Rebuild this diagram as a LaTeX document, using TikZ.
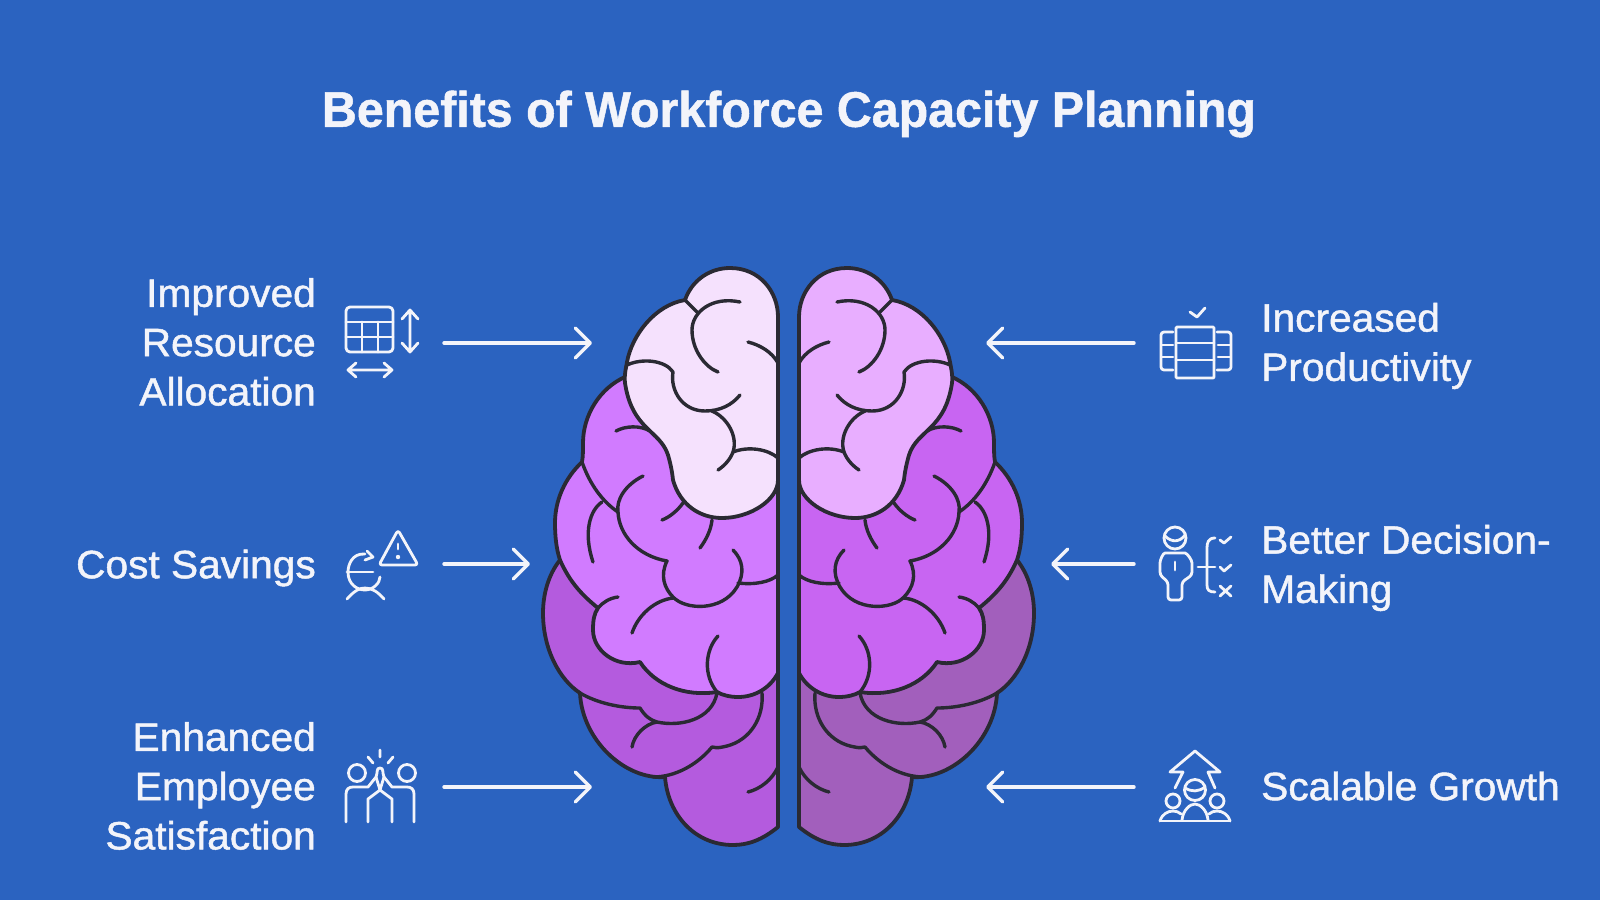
\documentclass[tikz,border=0pt]{standalone}
\usepackage{fontspec}
\usetikzlibrary{arrows.meta}
\newfontfamily\labfont[FakeBold=1.2,FakeStretch=1.03]{Liberation Sans}
\newfontfamily\titfont[FakeBold=1.0,FakeStretch=0.967]{Liberation Sans Bold}
\definecolor{bg}{HTML}{2B63C0}
\definecolor{ink}{HTML}{2A2A33}
\definecolor{wht}{HTML}{F3F4FA}
\definecolor{lA}{HTML}{F5E1FD}
\definecolor{lB}{HTML}{D17BFF}
\definecolor{lC}{HTML}{B45BDE}
\definecolor{rA}{HTML}{E8AEFF}
\definecolor{rB}{HTML}{C865F2}
\definecolor{rC}{HTML}{A25FBC}
\tikzset{
  brainline/.style={draw=ink,line width=3.8,line join=round,line cap=round},
  crease/.style={draw=ink,line width=3.4,line cap=round,line join=round},
  iconline/.style={draw=wht,line width=2.8,line cap=round,line join=round},
  conn/.style={draw=wht,line width=3.4,line cap=round,-{Straight Barb[length=15,width=30,line width=3.4,round]}},
  leftlab/.style={text=wht,anchor=east,align=right,inner sep=0pt,font=\labfont\fontsize{39.5}{49.3}\selectfont},
  rightlab/.style={text=wht,anchor=west,align=left,inner sep=0pt,font=\labfont\fontsize{39.5}{49.3}\selectfont},
}
\newcommand{\brainhalf}[3]{%
  % rear layer
  \path[brainline,fill=#3] (778,827) .. controls (762,840) and (748,845) .. (733,845)
    .. controls (695,845) and (668,815) .. (665,777)
    .. controls (625,780) and (582,740) .. (580,693)
    .. controls (560,680) and (543,650) .. (543,613)
    .. controls (543,595) and (548,575) .. (560,560) -- (778,600) -- cycle;
  \path[crease] (653,777) .. controls (675,777) and (697,765) .. (712,747)
    .. controls (718,748) .. (727,746) .. controls (750,740) and (764,718) .. (762,693);
  \path[crease] (580,693) .. controls (597,703) and (620,708) .. (640,708)
    .. controls (645,716) and (650,720) .. (657,722)
    .. controls (680,727) and (712,720) .. (717,693);
  \path[crease] (632,747) .. controls (634,735) and (645,724) .. (657,722);
  \path[crease] (748,792) .. controls (760,789) and (772,780) .. (778,767);
  % middle layer
  \path[brainline,fill=#2] (778,673) .. controls (770,688) and (755,697) .. (738,697)
    .. controls (730,697) and (722,695) .. (717,692)
    .. controls (685,697) and (655,685) .. (640,662)
    .. controls (615,668) and (593,650) .. (593,630)
    .. controls (593,620) and (594,614) .. (598,608)
    .. controls (578,592) and (568,578) .. (560,560)
    .. controls (556,548) and (555,535) .. (555,523)
    .. controls (555,500) and (565,478) .. (582,462)
    .. controls (583,457) and (583,450) .. (583,443)
    .. controls (583,415) and (600,388) .. (625,377)
    -- (778,450) -- cycle;
  \path[crease] (582,462) .. controls (590,485) and (603,502) .. (618,512);
  \path[crease] (616,431) .. controls (625,426) and (640,425) .. (650,431);
  \path[crease] (643,476) .. controls (625,485) and (616,500) .. (618,512)
    .. controls (619,535) and (638,556) .. (667,561)
    .. controls (660,575) and (664,588) .. (673,597)
    .. controls (685,610) and (722,612) .. (737,587)
    .. controls (745,573) and (743,560) .. (733,550);
  \path[crease] (738,583) .. controls (755,585) and (770,582) .. (778,575);
  \path[crease] (602,502) .. controls (590,510) and (583,532) .. (593,562);
  \path[crease] (662,520) .. controls (670,517) and (678,510) .. (683,503);
  \path[crease] (712,520) .. controls (711,530) and (706,540) .. (700,548);
  \path[crease] (598,608) .. controls (603,602) and (610,598) .. (618,597);
  \path[crease] (632,633) .. controls (638,615) and (655,600) .. (673,598);
  \path[crease] (718,636) .. controls (705,650) and (703,675) .. (717,692);
  % front layer
  \path[brainline,fill=#1] (778,480) .. controls (778,500) and (750,518) .. (722,518)
    .. controls (700,518) and (680,505) .. (673,480)
    .. controls (672,470) and (670,462) .. (668,455)
    .. controls (660,430) and (632,430) .. (625,383)
    .. controls (624,375) and (626,368) .. (627,362)
    .. controls (632,335) and (655,305) .. (685,300)
    .. controls (692,280) and (710,268) .. (730,268)
    .. controls (760,268) and (778,292) .. (778,317) -- cycle;
  \path[crease] (740,302) .. controls (712,296) and (692,312) .. (692,330)
    .. controls (692,350) and (705,367) .. (718,372);
  \path[crease] (685,300) -- (697,312);
  \path[crease] (778,363) .. controls (772,352) and (760,345) .. (748,342);
  \path[crease] (627,365) .. controls (642,358) and (665,360) .. (673,372)
    .. controls (670,390) and (682,411) .. (705,411)
    .. controls (720,411) and (732,405) .. (740,395);
  \path[crease] (712,411) .. controls (728,418) and (738,437) .. (733,452)
    .. controls (730,460) and (724,466) .. (718,470);
  \path[crease] (733,452) .. controls (748,446) and (768,449) .. (778,458);
}
\begin{document}
\begin{tikzpicture}[x=1pt,y=-1pt]
\useasboundingbox (0,0) rectangle (1600,900);
\fill[bg] (0,0) rectangle (1600,900);

\node[text=wht,font=\titfont\fontsize{50}{56}\selectfont,anchor=center,inner sep=0pt] (title) at (789,114) {Benefits of Workforce Capacity Planning};

% brain
\begin{scope}
\brainhalf{lA}{lB}{lC}
\end{scope}
\begin{scope}[shift={(1577,0)},xscale=-1]
\brainhalf{rA}{rB}{rC}
\end{scope}

% labels
\node[leftlab] (l1) at (316,342) {Improved\\Resource\\Allocation};
\node[leftlab] (l2) at (316,568) {Cost Savings};
\node[leftlab] (l3) at (316,786) {Enhanced\\Employee\\Satisfaction};
\node[rightlab] (r1) at (1261,346) {Increased\\Productivity};
\node[rightlab] (r2) at (1261,568) {Better Decision-\\Making};
\node[rightlab] (r3) at (1261,786) {Scalable Growth};

% connectors
\coordinate (a1s) at (444,343); \coordinate (a1e) at (592,343);
\coordinate (a2s) at (444,564); \coordinate (a2e) at (530,564);
\coordinate (a3s) at (444,787); \coordinate (a3e) at (592,787);
\coordinate (b1s) at (1134,343); \coordinate (b1e) at (986,343);
\coordinate (b2s) at (1134,564); \coordinate (b2e) at (1051,564);
\coordinate (b3s) at (1134,787); \coordinate (b3e) at (986,787);
\draw[conn] (a1s) -- (a1e);
\draw[conn] (a2s) -- (a2e);
\draw[conn] (a3s) -- (a3e);
\draw[conn] (b1s) -- (b1e);
\draw[conn] (b2s) -- (b2e);
\draw[conn] (b3s) -- (b3e);

% icon: table with arrows
\draw[iconline,rounded corners=4] (346,307) rectangle (393,352);
\draw[iconline] (346,322) -- (393,322) (346,337) -- (393,337) (362,322) -- (362,352) (378,322) -- (378,352);
\draw[iconline] (410,311) -- (410,351) (402,319) -- (410,310) -- (418,319) (402,343) -- (410,352) -- (418,343);
\draw[iconline] (349,370) -- (391,370) (356,363) -- (348,370) -- (356,377) (384,363) -- (392,370) -- (384,377);

% icon: euro and warning
\draw[iconline,rounded corners=3] (398,530) -- (418,565) -- (379,565) -- cycle;
\draw[iconline] (398,544) -- (398,549);
\fill[wht] (398,557) circle (2.2);
\draw[iconline] (365,554) .. controls (352,553) and (348,565) .. (348,572) .. controls (348,585) and (358,590) .. (365,590) .. controls (373,590) and (380,583) .. (380,577);
\draw[iconline] (347,572) -- (373,572);
\draw[iconline] (367,551) -- (373,557) -- (365,560);
\draw[iconline] (347,599) .. controls (355,590) and (360,588) .. (365,588) .. controls (372,588) and (378,592) .. (384,599);

% icon: high five
\draw[iconline] (357,773) circle (8.5) (407,773) circle (8.5);
\draw[iconline] (380,750) -- (380,757) (368,757) -- (373,763) (393,757) -- (388,763);
\draw[iconline] (346,822) -- (346,794) .. controls (346,789) and (349,787) .. (353,787) -- (368,787) -- (376,777) .. controls (378,772) and (376,768) .. (380,768) .. controls (384,768) and (382,772) .. (384,777) -- (392,787) -- (407,787) .. controls (411,787) and (414,789) .. (414,794) -- (414,822);
\draw[iconline] (368,822) -- (368,799) -- (380,790) -- (392,799) -- (392,822);
\draw[iconline] (376,777) -- (380,790) -- (384,777);

% icon: productivity
\draw[iconline] (1190,312) -- (1197,317) -- (1205,308);
\draw[iconline,rounded corners=1] (1176,327) rectangle (1214,378);
\draw[iconline] (1176,343) -- (1214,343) (1176,360) -- (1214,360);
\draw[iconline,rounded corners=3] (1173,332) -- (1161,332) -- (1161,370) -- (1173,370);
\draw[iconline,rounded corners=3] (1217,332) -- (1231,332) -- (1231,370) -- (1217,370);
\draw[iconline] (1162,345) -- (1173,345) (1162,357) -- (1173,357) (1218,345) -- (1230,345) (1218,357) -- (1230,357);

% icon: decision
\draw[iconline] (1175,538) circle (11);
\draw[iconline] (1165,536) .. controls (1172,543) and (1180,542) .. (1185,535);
\draw[iconline,rounded corners=3] (1168,600) -- (1168,582) -- (1160,575) -- (1160,566) .. controls (1160,560) and (1163,553) .. (1168,553) -- (1182,553) .. controls (1187,553) and (1192,560) .. (1192,566) -- (1192,575) -- (1182,582) -- (1182,600) -- cycle;
\draw[iconline] (1175,562) -- (1175,570);
\draw[iconline] (1215,538) .. controls (1208,538) and (1207,543) .. (1207,548) -- (1207,585) .. controls (1207,590) and (1209,592) .. (1215,592);
\draw[iconline] (1198,567) -- (1215,567);
\draw[iconline] (1220,540) -- (1224,543) -- (1231,537);
\draw[iconline] (1220,567) -- (1224,571) -- (1231,565);
\draw[iconline] (1220,586) -- (1231,596) (1231,586) -- (1220,596);

% icon: growth
\draw[iconline] (1175,788) -- (1183,772) -- (1170,772) -- (1195,751) -- (1220,772) -- (1208,772) -- (1215,788);
\draw[iconline] (1195,790) circle (10.5);
\draw[iconline] (1185,788) .. controls (1192,792) and (1198,792) .. (1205,787);
\draw[iconline] (1173,801) circle (7) (1217,801) circle (7);
\draw[iconline] (1160,821) -- (1230,821);
\draw[iconline] (1160,821) .. controls (1162,814) and (1168,811) .. (1173,811) .. controls (1176,811) and (1179,812) .. (1181,814);
\draw[iconline] (1230,821) .. controls (1228,814) and (1222,811) .. (1217,811) .. controls (1214,811) and (1211,812) .. (1209,814);
\draw[iconline] (1182,820) .. controls (1183,810) and (1190,804) .. (1195,804) .. controls (1200,804) and (1207,810) .. (1208,820);
\end{tikzpicture}
\end{document}
